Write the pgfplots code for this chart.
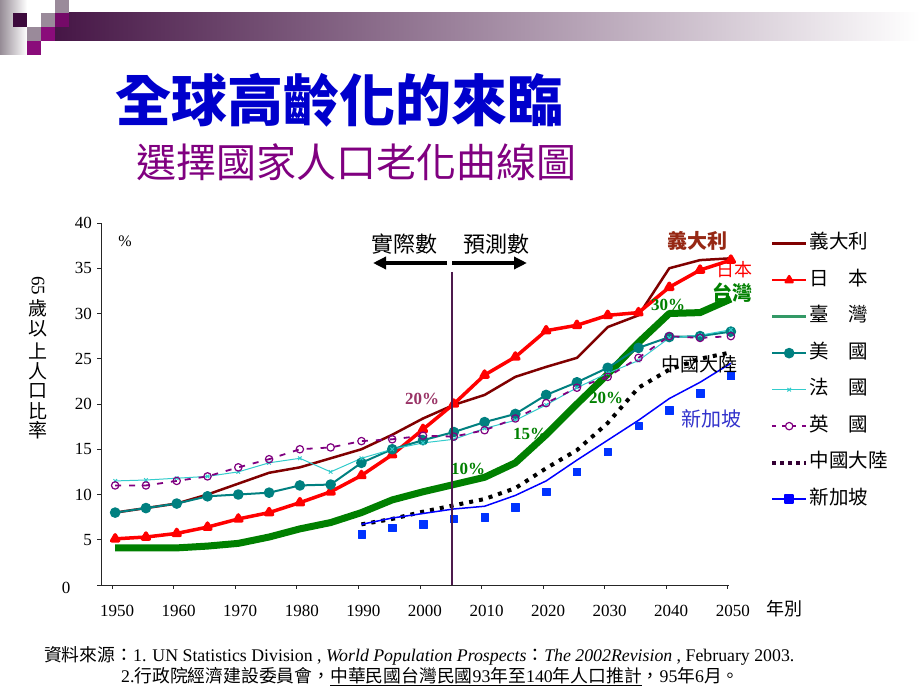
\documentclass[border=0pt]{standalone}
\usepackage{fontspec}
\setmainfont{Liberation Serif}
\newfontfamily\cjk{Noto Sans CJK TC}
\usepackage{graphicx}
\usepackage{pgfplots}
\usepackage{pgfplotstable}
\pgfplotsset{compat=1.18}
\usetikzlibrary{arrows.meta}

\definecolor{italy}{RGB}{128,0,0}
\definecolor{japan}{RGB}{255,0,0}
\definecolor{taiwan}{RGB}{0,128,0}
\definecolor{twleg}{RGB}{51,153,102}
\definecolor{us}{RGB}{0,128,128}
\definecolor{france}{RGB}{51,204,204}
\definecolor{uk}{RGB}{128,0,128}
\definecolor{chinaleg}{RGB}{51,0,51}
\definecolor{sg}{RGB}{0,0,255}
\definecolor{sgmark}{RGB}{0,51,255}
\definecolor{vline}{RGB}{77,26,77}
\definecolor{titleblue}{RGB}{0,0,204}
\definecolor{subpurple}{RGB}{128,0,128}
\definecolor{italylab}{RGB}{150,40,20}
\definecolor{pct}{RGB}{153,51,102}
\definecolor{sglab}{RGB}{51,51,204}
\definecolor{decodark}{RGB}{70,22,70}
\definecolor{decomid}{RGB}{150,140,150}
\definecolor{decogray}{RGB}{154,138,154}
\definecolor{decomag}{RGB}{138,12,122}
\definecolor{decosq}{RGB}{61,10,61}

\pgfplotstableread{
year italy japan taiwan us france uk
1950 8.0 5.1 4.1 8.0 11.5 11.0
1955 8.5 5.3 4.1 8.5 11.6 11.0
1960 9.0 5.7 4.1 9.0 11.8 11.5
1965 10.0 6.4 4.3 9.8 12.0 12.0
1970 11.2 7.3 4.6 10.0 12.5 13.0
1975 12.4 8.0 5.3 10.2 13.5 13.9
1980 13.0 9.1 6.2 11.0 14.0 15.0
1985 14.0 10.3 6.9 11.1 12.5 15.2
1990 15.0 12.1 8.0 13.5 14.0 15.9
1995 16.6 14.4 9.4 15.0 15.0 16.1
2000 18.4 17.2 10.3 16.0 15.7 16.5
2005 19.9 20.0 11.1 16.9 16.1 16.4
2010 21.0 23.2 11.9 18.0 17.3 17.1
2015 23.0 25.2 13.5 18.9 18.2 18.4
2020 24.1 28.1 16.6 21.0 19.9 20.1
2025 25.1 28.7 20.0 22.4 21.8 21.8
2030 28.5 29.8 23.3 24.0 23.4 23.0
2035 29.8 30.1 26.8 26.2 24.8 25.1
2040 35.0 32.9 30.0 27.4 27.3 27.5
2045 35.9 34.8 30.1 27.5 27.6 27.3
2050 36.1 35.9 31.6 28.0 28.2 27.5
}\maintab

\pgfplotstableread{
year china sgline sgmark
1990 6.7 6.7 5.6
1995 7.3 7.4 6.3
2000 8.1 7.9 6.7
2005 8.8 8.4 7.3
2010 9.5 8.7 7.5
2015 10.7 9.9 8.6
2020 12.9 11.5 10.3
2025 14.9 13.8 12.5
2030 17.9 16.0 14.7
2035 21.8 18.2 17.6
2040 23.8 20.6 19.3
2045 25.0 22.4 21.2
2050 25.7 24.5 23.1
}\asiatab

\begin{document}
\begin{tikzpicture}
\useasboundingbox (0,0) rectangle (920bp,690bp);
\fill[white] (0,0) rectangle (920bp,690bp);
\begin{scope}[x=1bp,y=1bp]
  % decoration
  \shade[left color=decomid, right color=white] (0,635) rectangle (27,690);
  \shade[left color=decodark, middle color=decomid!90, right color=white] (55,649) rectangle (920,677);
  \fill[decosq] (13,663) rectangle (27,677);
  \fill[decogray] (27,649) rectangle (41,663);
  \fill[decomag] (27,635) rectangle (41,649);
  \fill[decogray] (41,663) rectangle (55,677);
  \fill[decomag] (41,649) rectangle (55,663);
  \fill[decogray] (55,677) rectangle (69,690);
  \fill[decomag!85!black] (55,663) rectangle (69,677);
  % titles
  \node[anchor=west, text=titleblue, inner sep=0pt, font=\cjk\bfseries\fontsize{56bp}{56bp}\selectfont] at (115,590) {全球高齡化的來臨};
  \node[anchor=west, text=subpurple, inner sep=0pt, font=\cjk\fontsize{40bp}{40bp}\selectfont] at (136,528) {選擇國家人口老化曲線圖};
\end{scope}

\begin{axis}[
  at={(101bp,105bp)}, anchor=south west,
  scale only axis, width=628bp, height=362bp,
  xmin=1947.7, xmax=2049.7, ymin=0, ymax=40,
  axis x line=bottom, axis y line=left,
  axis line style={-, line width=0.8bp, black!85},
  clip=false,
  xtick={1949.5,1959.5,1969.5,1979.5,1989.5,1999.5,2009.5,2019.5,2029.5,2039.5,2049.5},
  xticklabels={1950,1960,1970,1980,1990,2000,2010,2020,2030,2040,2050},
  ytick={0,5,10,15,20,25,30,35,40},
  yticklabels={,5,10,15,20,25,30,35,40},
  tick align=outside, major tick length=4bp,
  tick style={black!85, line width=0.8bp},
  xticklabel style={font=\fontsize{17bp}{17bp}\selectfont, yshift=-13bp, xshift=5bp},
  yticklabel style={font=\fontsize{17bp}{17bp}\selectfont, xshift=-1.5bp},
  /pgf/number format/assume math mode=true,
  line join=round,
  legend style={at={(1.0605,0.978)}, anchor=north west, draw=none, fill=none,
    font=\cjk\fontsize{19.5bp}{19.5bp}\selectfont, row sep=15.5bp,
    nodes={inner sep=1.5bp, text height=14bp, text depth=4bp, anchor=west}},
  legend cell align=left,
  legend image code/.code={\draw[mark repeat=2,mark phase=2,#1] plot coordinates {(0bp,0bp) (17bp,0bp) (34bp,0bp)};},
]
\addlegendimage{italy, line width=3bp}
\addlegendentry{義大利}
\addlegendimage{japan, line width=2.5bp, mark=triangle*, mark size=4bp}
\addlegendentry{日　本}
\addlegendimage{twleg, line width=3bp}
\addlegendentry{臺　灣}
\addlegendimage{us, line width=2bp, mark=*, mark size=4.3bp}
\addlegendentry{美　國}
\addlegendimage{france, line width=1bp, mark=x, mark size=2.5bp}
\addlegendentry{法　國}
\addlegendimage{uk, line width=2bp, dash pattern=on 4bp off 6bp, mark=o, mark size=3.7bp, mark options={solid, line width=1.2bp}}
\addlegendentry{英　國}
\addlegendimage{chinaleg, line width=4bp, dash pattern=on 4bp off 4bp}
\addlegendentry{中國大陸}
\addlegendimage{sg, line width=1.5bp, mark=square*, mark size=4bp}
\addlegendentry{新加坡}

\addplot[italy, line width=2.5bp, forget plot] table[x=year, y=italy] {\maintab};
\addplot[japan, line width=3.5bp, mark=triangle*, mark size=4bp, forget plot] table[x=year, y=japan] {\maintab};
\addplot[taiwan, line width=7bp, forget plot] table[x=year, y=taiwan] {\maintab};
\addplot[us, line width=2bp, mark=*, mark size=4.3bp, mark options={fill=us}, forget plot] table[x=year, y=us] {\maintab};
\addplot[france, line width=1bp, mark=x, mark size=2.5bp, forget plot] table[x=year, y=france] {\maintab};
\addplot[uk, line width=1.8bp, dash pattern=on 6bp off 8bp, mark=o, mark size=3.7bp, mark options={solid, line width=1.2bp, fill=white}, forget plot] table[x=year, y=uk] {\maintab};
\addplot[black, line width=4bp, dash pattern=on 4bp off 6bp, line cap=butt, forget plot] table[x=year, y=china] {\asiatab};
\addplot[sg, line width=1.5bp, forget plot] table[x=year, y=sgline] {\asiatab};
\addplot[only marks, mark=square*, mark size=3.7bp, sgmark, forget plot] table[x=year, y=sgmark] {\asiatab};
\end{axis}

\begin{scope}[x=1bp,y=1bp]
  % boundary between actual and projected
  \draw[vline, line width=1.5bp] (452,418) -- (452,105);
  \draw[line width=4bp, -{Triangle[length=13bp,width=12bp]}] (447,427) -- (373,427);
  \draw[line width=4bp, -{Triangle[length=13bp,width=12bp]}] (452,427) -- (527,427);
  \node[font=\cjk\fontsize{22bp}{22bp}\selectfont] at (404,446) {實際數};
  \node[font=\cjk\fontsize{22bp}{22bp}\selectfont] at (496,446) {預測數};
  % axis texts
  \node[font=\fontsize{16bp}{16bp}\selectfont] at (125,449) {\%};
  \node[font=\fontsize{17bp}{17bp}\selectfont] at (66,102) {0};
  \node[font=\fontsize{19bp}{19bp}\selectfont, rotate=-90] at (38,404) {65};
  \node[font=\cjk\fontsize{19bp}{19bp}\selectfont] at (38,382) {歲};
  \node[font=\cjk\fontsize{19bp}{19bp}\selectfont] at (38,361) {以};
  \node[font=\cjk\fontsize{19bp}{19bp}\selectfont] at (38,339) {上};
  \node[font=\cjk\fontsize{19bp}{19bp}\selectfont] at (38,319) {人};
  \node[font=\cjk\fontsize{19bp}{19bp}\selectfont] at (38,299) {口};
  \node[font=\cjk\fontsize{19bp}{19bp}\selectfont] at (38,279) {比};
  \node[font=\cjk\fontsize{19bp}{19bp}\selectfont] at (38,260) {率};
  \node[font=\cjk\fontsize{18bp}{18bp}\selectfont] at (784,81) {年別};
  % in-plot labels
  \node[text=italylab, font=\cjk\bfseries\fontsize{20bp}{20bp}\selectfont] at (697,449) {義大利};
  \node[text=japan, font=\cjk\fontsize{18bp}{18bp}\selectfont] at (734,420) {日本};
  \node[text=taiwan, font=\cjk\bfseries\fontsize{20bp}{20bp}\selectfont] at (732,397) {台灣};
  \node[text=taiwan, font=\bfseries\fontsize{17bp}{17bp}\selectfont] at (668,385) {30\%};
  \node[text=black, font=\cjk\fontsize{19bp}{19bp}\selectfont] at (699,326) {中國大陸};
  \node[text=sglab, font=\cjk\fontsize{20bp}{20bp}\selectfont] at (711,271) {新加坡};
  \node[text=pct, font=\bfseries\fontsize{17bp}{17bp}\selectfont] at (422,291) {20\%};
  \node[text=taiwan, font=\bfseries\fontsize{17bp}{17bp}\selectfont] at (606,292) {20\%};
  \node[text=taiwan, font=\bfseries\fontsize{17bp}{17bp}\selectfont] at (530,256) {15\%};
  \node[text=taiwan, font=\bfseries\fontsize{17bp}{17bp}\selectfont] at (468,221) {10\%};
  % sources
  \node[anchor=base west, inner sep=0pt, font=\fontsize{17.8bp}{19bp}\selectfont] at (44,29)
    {{\cjk 資料來源：}1. UN Statistics Division , \textit{World Population Prospects}{\cjk ：}\textit{The 2002Revision} , February 2003.};
  \node[anchor=base west, inner sep=0pt, font=\fontsize{17.8bp}{19bp}\selectfont] at (121,8)
    {2.{\cjk 行政院經濟建設委員會，}\underline{{\cjk 中華民國台灣民國}93{\cjk 年至}140{\cjk 年人口推計}}{\cjk ，}95{\cjk 年}6{\cjk 月。}};
\end{scope}
\end{tikzpicture}
\end{document}
